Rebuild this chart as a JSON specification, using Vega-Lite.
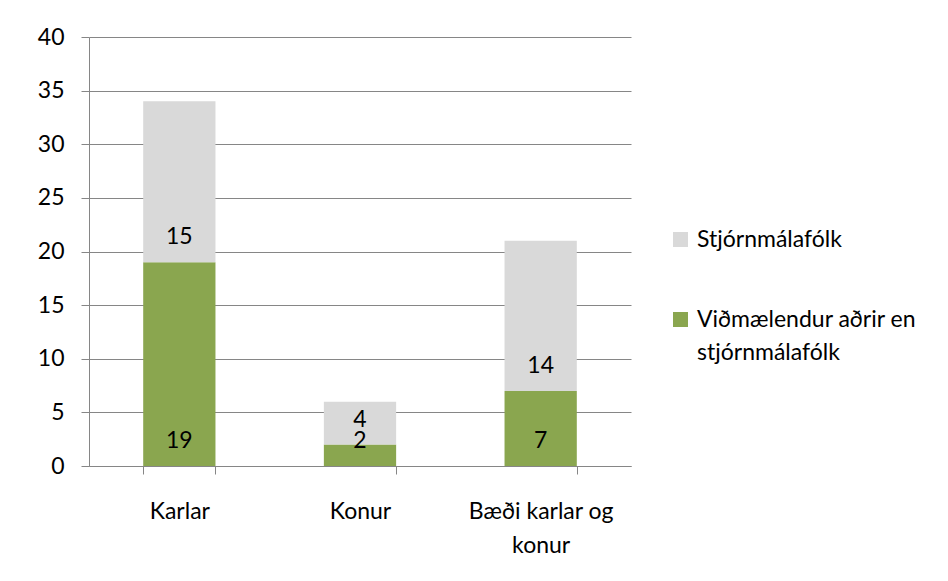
{
  "$schema": "https://vega.github.io/schema/vega-lite/v6.json",
  "width": 542,
  "height": 429,
  "autosize": "none",
  "padding": {"left": 89, "top": 37, "right": 317, "bottom": 115},
  "background": "white",
  "config": {
    "view": {"stroke": null},
    "font": "Lato",
    "style": {"guide-label": {"lineHeight": 33}},
    "axis": {"labelFont": "Lato", "labelFontSize": 23, "labelColor": "#000000", "domainColor": "#868686", "tickColor": "#868686", "gridColor": "#868686", "title": null},
    "legend": {"labelFont": "Lato", "labelFontSize": 23, "labelColor": "#000000"}
  },
  "data": {
    "values": [
      {"cat": "Karlar", "group": "Viðmælendur aðrir en stjórnmálafólk", "ord": 0, "value": 19},
      {"cat": "Karlar", "group": "Stjórnmálafólk", "ord": 1, "value": 15},
      {"cat": "Konur", "group": "Viðmælendur aðrir en stjórnmálafólk", "ord": 0, "value": 2},
      {"cat": "Konur", "group": "Stjórnmálafólk", "ord": 1, "value": 4},
      {"cat": "Bæði karlar og konur", "group": "Viðmælendur aðrir en stjórnmálafólk", "ord": 0, "value": 7},
      {"cat": "Bæði karlar og konur", "group": "Stjórnmálafólk", "ord": 1, "value": 14}
    ]
  },
  "transform": [
    {"stack": "value", "groupby": ["cat"], "sort": [{"field": "ord", "order": "ascending"}], "as": ["y0", "y1"]}
  ],
  "encoding": {
    "x": {
      "field": "cat", "type": "nominal", "sort": ["Karlar", "Konur", "Bæði karlar og konur"],
      "scale": {"paddingInner": 0.6, "paddingOuter": 0.3},
      "axis": {
        "labelAngle": 0, "tickBand": "extent", "tickSize": 8, "labelPadding": 26, "labelLineHeight": 34,
        "labelBaseline": "top",
        "labelExpr": "datum.label == 'Bæði karlar og konur' ? ['Bæði karlar og', 'konur'] : datum.label"
      }
    }
  },
  "layer": [
    {
      "mark": {"type": "bar"},
      "encoding": {
        "y": {"field": "y0", "type": "quantitative", "scale": {"domain": [0, 40]},
          "axis": {"values": [0, 5, 10, 15, 20, 25, 30, 35, 40], "grid": true, "tickSize": 8, "labelPadding": 17, "domain": true}},
        "y2": {"field": "y1"},
        "color": {
          "field": "group", "type": "nominal",
          "scale": {"domain": ["Stjórnmálafólk", "Viðmælendur aðrir en stjórnmálafólk"], "range": ["#D9D9D9", "#8AA64F"]},
          "legend": {
            "title": null, "orient": "none", "legendX": 580, "legendY": 191,
            "symbolType": "square", "symbolSize": 225, "symbolStrokeWidth": 0, "symbolOpacity": 1,
            "labelOffset": 5, "rowPadding": 56, "labelLimit": 400,
            "labelBaseline": "middle",
            "labelExpr": "datum.label == 'Viðmælendur aðrir en stjórnmálafólk' ? ['Viðmælendur aðrir en', 'stjórnmálafólk'] : datum.label"
          }
        }
      }
    },
    {
      "mark": {"type": "text", "baseline": "middle", "dy": -25, "fontSize": 23, "font": "Lato", "color": "#000000"},
      "encoding": {
        "y": {"field": "y0", "type": "quantitative"},
        "text": {"field": "value", "type": "quantitative"}
      }
    }
  ]
}
